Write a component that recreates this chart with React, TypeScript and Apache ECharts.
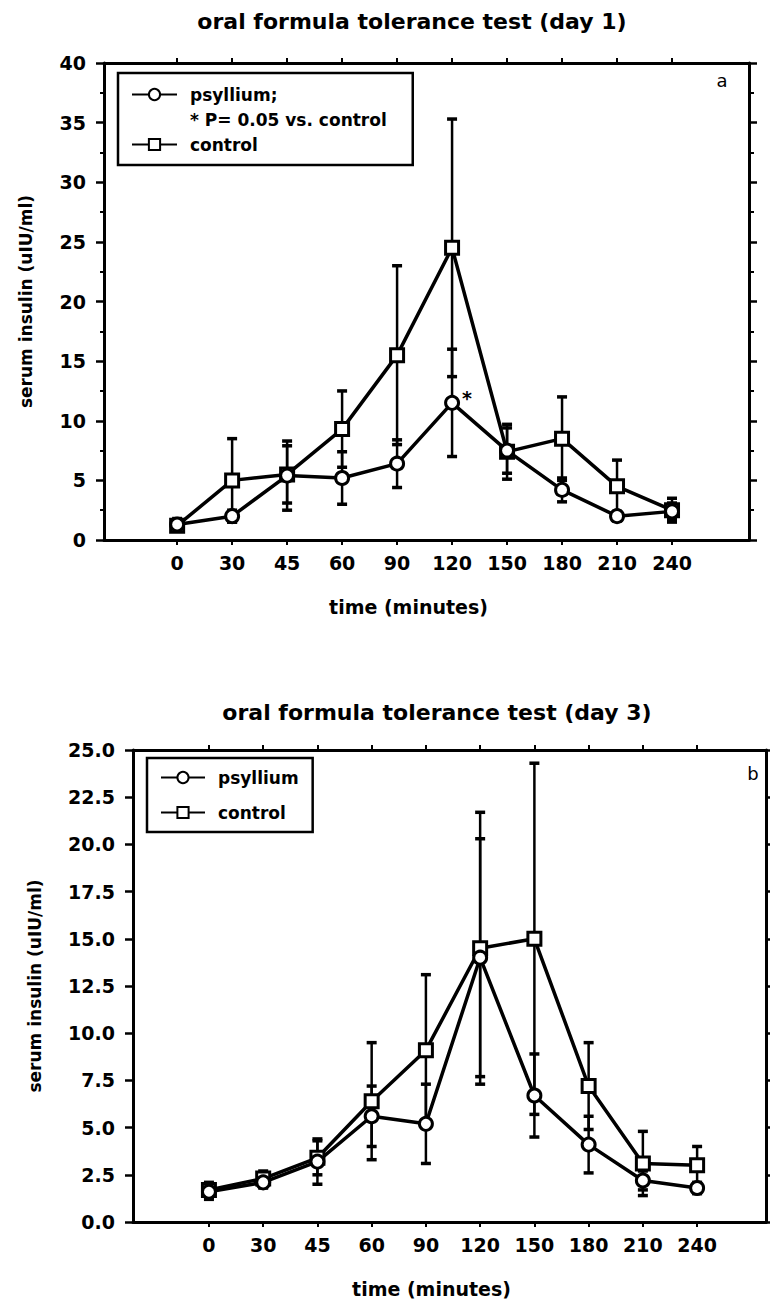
import React, { useEffect, useRef } from "react";
import * as echarts from "echarts";

const timeLabels = ["0", "30", "45", "60", "90", "120", "150", "180", "210", "240"];

const day1Psyllium = [1.3, 2.0, 5.4, 5.2, 6.4, 11.5, 7.5, 4.2, 2.0, 2.4];
const day1PsylliumErr = [0.5, 0.5, 2.9, 2.2, 2.0, 4.5, 1.9, 1.0, 0.4, 0.7];
const day1Control = [1.2, 5.0, 5.5, 9.3, 15.5, 24.5, 7.4, 8.5, 4.5, 2.5];
const day1ControlErr = [0.4, 3.5, 2.4, 3.2, 7.5, 10.8, 2.3, 3.5, 2.2, 1.0];

const day3Psyllium = [1.6, 2.1, 3.2, 5.6, 5.2, 14.0, 6.7, 4.1, 2.2, 1.8];
const day3PsylliumErr = [0.4, 0.3, 1.2, 1.6, 2.1, 6.3, 2.2, 1.5, 0.5, 0.3];
const day3Control = [1.7, 2.3, 3.4, 6.4, 9.1, 14.5, 15.0, 7.2, 3.1, 3.0];
const day3ControlErr = [0.4, 0.4, 0.9, 3.1, 4.0, 7.2, 9.3, 2.3, 1.7, 1.0];

const FONT = "DejaVu Sans";
const idx = timeLabels.map((_, i) => i);

function pts(vals: number[]) {
  return vals.map((v, i) => [i, v]);
}
function errPts(vals: number[], errs: number[]) {
  return vals.map((v, i) => [i, v, errs[i]]);
}

function errorSeries(data: number[][], xi: number, yi: number) {
  return {
    type: "custom",
    xAxisIndex: xi,
    yAxisIndex: yi,
    z: 1,
    silent: true,
    encode: { x: 0, y: 1 },
    data,
    renderItem: (params: any, api: any) => {
      const x = api.value(0);
      const y = api.value(1);
      const e = api.value(2);
      const top = api.coord([x, y + e]);
      const bot = api.coord([x, y - e]);
      const hw = 5;
      const st = { stroke: "#000", lineWidth: 2.5 };
      return {
        type: "group",
        children: [
          { type: "line", shape: { x1: top[0], y1: top[1], x2: bot[0], y2: bot[1] }, style: st },
          { type: "line", shape: { x1: top[0] - hw, y1: top[1], x2: top[0] + hw, y2: top[1] }, style: { stroke: "#000", lineWidth: 3.5 } },
          { type: "line", shape: { x1: bot[0] - hw, y1: bot[1], x2: bot[0] + hw, y2: bot[1] }, style: { stroke: "#000", lineWidth: 3.5 } },
        ],
      };
    },
  };
}

function lineSeries(name: string, data: any[], symbol: string, size: number, xi: number, yi: number) {
  return {
    type: "line",
    name,
    xAxisIndex: xi,
    yAxisIndex: yi,
    z: 3,
    data,
    symbol,
    symbolSize: size,
    showAllSymbol: true,
    lineStyle: { color: "#000", width: 3.5 },
    itemStyle: { color: "#fff", borderColor: "#000", borderWidth: 3 },
  };
}

const tickLabelStyle = { color: "#000", fontFamily: FONT, fontWeight: "bold" as const, fontSize: 19 };

function xAxes(gridIndex: number, min: number, max: number) {
  return [
    {
      type: "value",
      gridIndex,
      position: "bottom",
      min,
      max,
      splitLine: { show: false },
      axisLine: { onZero: false, lineStyle: { color: "#000", width: 3 } },
      axisTick: { customValues: idx, length: 5, lineStyle: { color: "#000", width: 2 } },
      axisLabel: {
        customValues: idx,
        margin: 13,
        formatter: (v: number) => timeLabels[Math.round(v)] ?? "",
        ...tickLabelStyle,
      },
      name: "time (minutes)",
      nameLocation: "middle",
      nameGap: 57,
      nameTextStyle: { color: "#000", fontFamily: FONT, fontWeight: "bold", fontSize: 19, padding: [0, 36, 0, 0] },
    },
    {
      type: "value",
      gridIndex,
      position: "top",
      min,
      max,
      splitLine: { show: false },
      axisLine: { onZero: false, lineStyle: { color: "#000", width: 3 } },
      axisTick: { customValues: idx, length: 5, lineStyle: { color: "#000", width: 2 } },
      axisLabel: { show: false },
    },
  ];
}

function yAxes(gridIndex: number, max: number, interval: number, decimals: number, minor: boolean, nameGap: number) {
  return [
    {
      type: "value",
      gridIndex,
      position: "left",
      min: 0,
      max,
      interval,
      splitLine: { show: false },
      axisLine: { show: true, onZero: false, lineStyle: { color: "#000", width: 3 } },
      axisTick: { length: 8, lineStyle: { color: "#000", width: 2.5 } },
      minorTick: { show: minor, splitNumber: 2, length: 4, lineStyle: { color: "#000", width: 2 } },
      axisLabel: {
        margin: 18,
        formatter: (v: number) => v.toFixed(decimals),
        ...tickLabelStyle,
      },
      name: "serum insulin (uIU/ml)",
      nameLocation: "middle",
      nameGap,
      nameTextStyle: { color: "#000", fontFamily: FONT, fontWeight: "bold", fontSize: 17 },
    },
    {
      type: "value",
      gridIndex,
      position: "right",
      min: 0,
      max,
      interval,
      splitLine: { show: false },
      axisLine: { show: true, onZero: false, lineStyle: { color: "#000", width: 3 } },
      axisTick: { length: 8, lineStyle: { color: "#000", width: 2.5 } },
      minorTick: { show: minor, splitNumber: 2, length: 5, lineStyle: { color: "#000", width: 2 } },
      axisLabel: { show: false },
    },
  ];
}

const legendText = { color: "#000", fontFamily: FONT, fontWeight: "bold" as const, fontSize: 17, padding: [0, 0, 0, 8] };

export default function App() {
  const ref = useRef<HTMLDivElement>(null);
  useEffect(() => {
    document.body.style.margin = "0";
    if (!ref.current) return;
    const chart = echarts.init(ref.current, null, { renderer: "svg" });
    const p1 = pts(day1Psyllium).map((d, i) =>
      i === 5
        ? {
            value: d,
            label: {
              show: true,
              formatter: "*",
              position: "right",
              offset: [-3, -5],
              color: "#000",
              fontFamily: FONT,
              fontWeight: "bold",
              fontSize: 19,
            },
          }
        : d
    );
    const option: any = {
      animation: false,
      backgroundColor: "#fff",
      grid: [
        { left: 104, top: 63, width: 645, height: 477 },
        { left: 133, top: 750, width: 633, height: 472 },
      ],
      xAxis: [...xAxes(0, -1.33, 10.4), ...xAxes(1, -1.4, 10.27)],
      yAxis: [...yAxes(0, 40, 5, 0, true, 70), ...yAxes(1, 25, 2.5, 1, false, 90)],
      legend: [
        {
          orient: "vertical",
          left: 118,
          top: 73,
          padding: [13, 26, 12, 13],
          itemGap: 8,
          itemWidth: 45,
          itemHeight: 14,
          borderColor: "#000",
          borderWidth: 2.5,
          selectedMode: false,
          textStyle: legendText,
          data: [{ name: "psyllium;" }, { name: "* P= 0.05 vs. control", icon: "none" }, { name: "control" }],
        },
        {
          orient: "vertical",
          left: 147,
          top: 758,
          padding: [11, 14, 11, 13],
          itemGap: 18,
          itemWidth: 44,
          itemHeight: 14,
          borderColor: "#000",
          borderWidth: 2.5,
          selectedMode: false,
          textStyle: legendText,
          data: [{ name: "psyllium" }, { name: "control" }],
        },
      ],
      graphic: [
        {
          type: "text",
          x: 412,
          y: 21,
          style: { text: "oral formula tolerance test (day 1)", align: "center", verticalAlign: "middle", fill: "#000", font: `bold 22px "${FONT}"` },
        },
        {
          type: "text",
          x: 437,
          y: 712,
          style: { text: "oral formula tolerance test (day 3)", align: "center", verticalAlign: "middle", fill: "#000", font: `bold 22px "${FONT}"` },
        },
        { type: "text", x: 722, y: 80, style: { text: "a", align: "center", verticalAlign: "middle", fill: "#000", font: `18px "${FONT}"` } },
        { type: "text", x: 753, y: 773, style: { text: "b", align: "center", verticalAlign: "middle", fill: "#000", font: `18px "${FONT}"` } },
      ],
      series: [
        errorSeries(errPts(day1Control, day1ControlErr), 0, 0),
        errorSeries(errPts(day1Psyllium, day1PsylliumErr), 0, 0),
        lineSeries("control", pts(day1Control), "rect", 13, 0, 0),
        lineSeries("psyllium;", p1, "circle", 13, 0, 0),
        { type: "line", name: "* P= 0.05 vs. control", xAxisIndex: 0, yAxisIndex: 0, data: [], symbol: "none", lineStyle: { width: 0 } },
        errorSeries(errPts(day3Control, day3ControlErr), 2, 2),
        errorSeries(errPts(day3Psyllium, day3PsylliumErr), 2, 2),
        lineSeries("control", pts(day3Control), "rect", 13, 2, 2),
        lineSeries("psyllium", pts(day3Psyllium), "circle", 13, 2, 2),
      ],
    };
    chart.setOption(option);
    return () => chart.dispose();
  }, []);
  return <div ref={ref} style={{ position: "absolute", left: 0, top: 0, width: 770, height: 1305 }} />;
}
